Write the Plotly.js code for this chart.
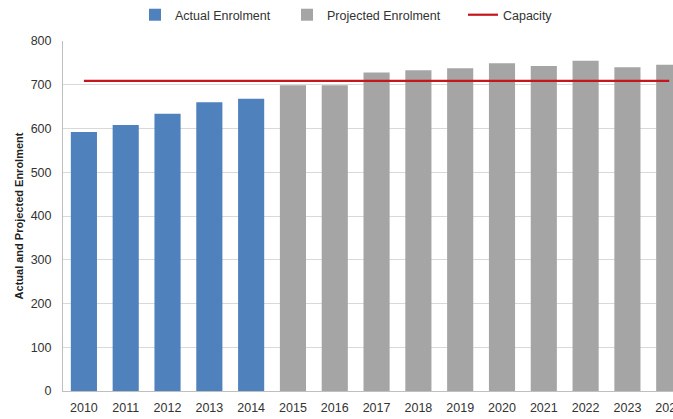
<!DOCTYPE html>
<html>
<head>
<meta charset="utf-8">
<script src="https://cdn.plot.ly/plotly-3.0.1.min.js"></script>
<style>
  html, body { margin: 0; padding: 0; background: #ffffff; overflow: hidden; }
  #chart { width: 673px; height: 419px; }
</style>
</head>
<body>
<div id="chart"></div>
<script>
// Data
const actualYears = ['2010', '2011', '2012', '2013', '2014'];
const actualEnrolment = [592, 608, 634, 660, 668];

const projectedYears = ['2015', '2016', '2017', '2018', '2019', '2020', '2021', '2022', '2023', '2024'];
const projectedEnrolment = [699, 699, 728, 733, 738, 749, 743, 755, 740, 746];

const capacityYears = ['2010', '2011', '2012', '2013', '2014', '2015', '2016', '2017', '2018', '2019', '2020', '2021', '2022', '2023', '2024'];
const capacity = [709, 709, 709, 709, 709, 709, 709, 709, 709, 709, 709, 709, 709, 709, 709];

const yTicks = [0, 100, 200, 300, 400, 500, 600, 700, 800];

const FONT = '"Liberation Sans", Arial, sans-serif';

const traces = [
  {
    type: 'bar',
    name: 'Actual Enrolment',
    x: actualYears,
    y: actualEnrolment,
    marker: { color: '#4f81bd' },
    legendwidth: 107,
    hoverinfo: 'x+y'
  },
  {
    type: 'bar',
    name: 'Projected Enrolment',
    x: projectedYears,
    y: projectedEnrolment,
    marker: { color: '#a5a5a5' },
    legendwidth: 131,
    hoverinfo: 'x+y'
  },
  {
    type: 'scatter',
    mode: 'lines',
    name: 'Capacity',
    x: capacityYears,
    y: capacity,
    line: { color: '#c4161c', width: 2.2 },
    legendwidth: 60,
    hoverinfo: 'x+y'
  }
];

const layout = {
  width: 673,
  height: 419,
  margin: { l: 63, r: 0, t: 41, b: 28, pad: 0 },
  paper_bgcolor: '#ffffff',
  plot_bgcolor: '#ffffff',
  font: { family: FONT, size: 12.5, color: '#333333' },
  barmode: 'overlay',
  bargap: 0.375,
  showlegend: true,
  legend: {
    orientation: 'h',
    x: 0.118,
    xanchor: 'left',
    y: 1.074,
    yanchor: 'middle',
    font: { family: FONT, size: 12.5, color: '#333333' },
    bgcolor: 'rgba(0,0,0,0)',
    traceorder: 'normal'
  },
  xaxis: {
    type: 'category',
    categoryorder: 'array',
    categoryarray: capacityYears,
    range: [-0.5, 14.09],
    showgrid: false,
    showline: true,
    linecolor: '#bfbfbf',
    linewidth: 1,
    ticks: '',
    ticklabelstandoff: 5,
    tickfont: { family: FONT, size: 12.5, color: '#333333' },
    fixedrange: true
  },
  yaxis: {
    range: [0, 800],
    tickvals: yTicks,
    ticktext: yTicks.map(String),
    showgrid: true,
    gridcolor: '#d9d9d9',
    gridwidth: 1,
    zeroline: false,
    showline: true,
    linecolor: '#bfbfbf',
    linewidth: 1,
    ticks: '',
    ticklabelstandoff: 8,
    tickfont: { family: FONT, size: 12.5, color: '#333333' },
    title: {
      text: 'Actual and Projected Enrolment',
      font: { family: FONT, size: 11, color: '#222222', weight: 'bold' },
      standoff: 4
    },
    fixedrange: true
  }
};

Plotly.newPlot('chart', traces, layout, { displayModeBar: false, staticPlot: true });
</script>
</body>
</html>
